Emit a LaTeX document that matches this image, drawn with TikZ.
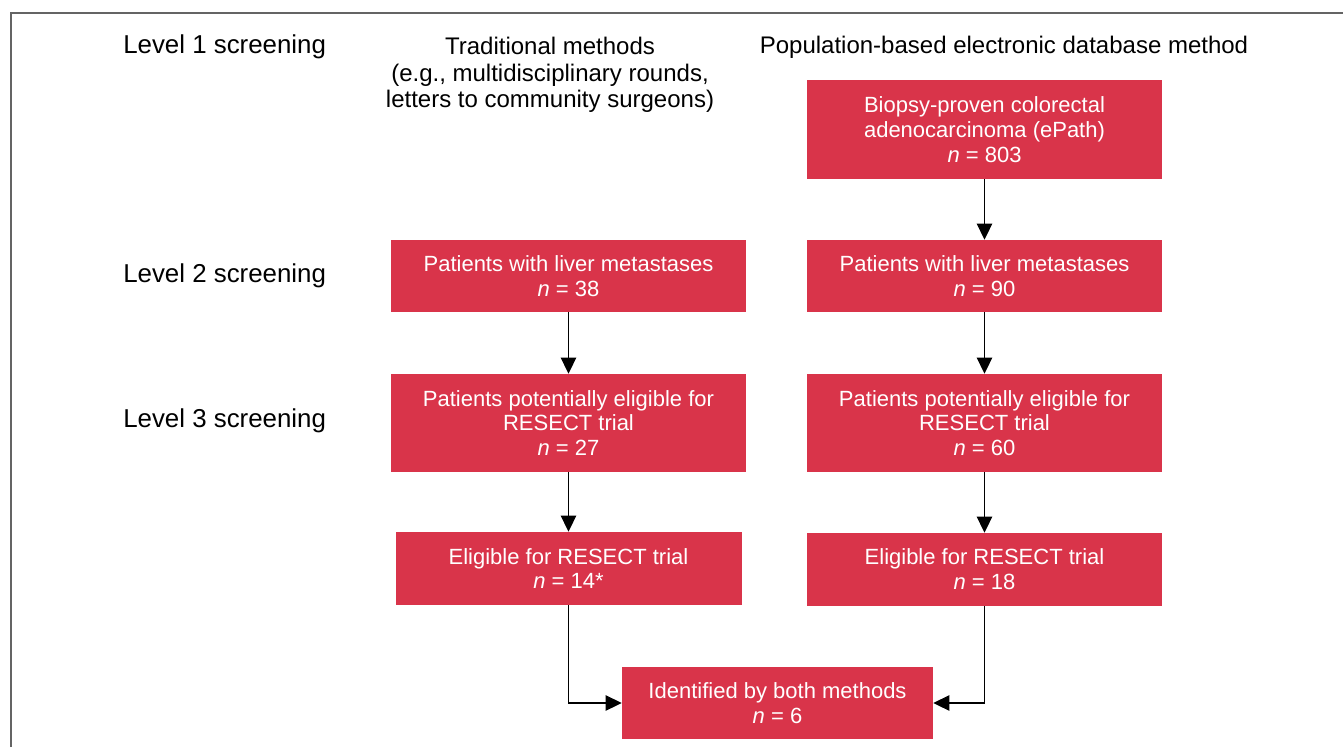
\documentclass[tikz,border=0pt]{standalone}
\usepackage{fontspec}
\setmainfont{Liberation Sans}
\usetikzlibrary{arrows.meta}
\definecolor{boxred}{RGB}{217,52,74}
\definecolor{framegray}{RGB}{100,100,100}

\begin{document}
\begin{tikzpicture}[
  x=0.75pt, y=-0.75pt,
  redbox/.style={
    fill=boxred, text=white, inner sep=0pt, align=center,
    minimum width=266.25pt, font=\fontsize{16.5}{18.6}\selectfont
  },
  levellabel/.style={anchor=west, inner sep=0pt, font=\fontsize{19.4}{21}\selectfont},
  header/.style={align=center, inner sep=0pt, font=\fontsize{18}{19.9}\selectfont},
  flow/.style={line width=0.8pt, -{Triangle[length=12pt,width=11.5pt]}}
]
\useasboundingbox (0,0) rectangle (1343,747);
\draw[framegray, line width=1.2pt] (11,747) -- (11,13) -- (1343,13);

% row labels
\node[levellabel] (lev1) at (123,47) {Level 1 screening};
\node[levellabel] (lev2) at (123,276) {Level 2 screening};
\node[levellabel] (lev3) at (123,421) {Level 3 screening};

% column headers
\node[header] (tradhead) at (550,75) {Traditional methods\\(e.g., multidisciplinary rounds,\\letters to community surgeons)};
\node[header] (pophead) at (1004,47) {Population-based electronic database method};

% boxes
\node[redbox, minimum height=74.25pt] (epath) at (984.5,129.5)
  {Biopsy-proven colorectal\\adenocarcinoma (ePath)\\\textit{n} = 803};
\node[redbox, minimum height=54pt] (livertrad) at (568.5,276)
  {Patients with liver metastases\\\textit{n} = 38};
\node[redbox, minimum height=54pt] (liverpop) at (984.5,276)
  {Patients with liver metastases\\\textit{n} = 90};
\node[redbox, minimum height=73.5pt] (pottrad) at (568.5,423)
  {Patients potentially eligible for\\RESECT trial\\\textit{n} = 27};
\node[redbox, minimum height=73.5pt] (potpop) at (984.5,423)
  {Patients potentially eligible for\\RESECT trial\\\textit{n} = 60};
\node[redbox, minimum width=259.5pt, minimum height=54.75pt] (eligtrad) at (568.5,568.5)
  {Eligible for RESECT trial\\\textit{n} = 14*};
\node[redbox, minimum height=54.75pt] (eligpop) at (984.5,569.5)
  {Eligible for RESECT trial\\\textit{n} = 18};
\node[redbox, minimum width=233.25pt, minimum height=54pt] (both) at (777.5,703)
  {Identified by both methods\\\textit{n} = 6};

% connectors
\draw[flow] (epath) -- (liverpop);
\draw[flow] (livertrad) -- (pottrad);
\draw[flow] (liverpop) -- (potpop);
\draw[flow] (pottrad) -- (eligtrad);
\draw[flow] (potpop) -- (eligpop);
\draw[flow] (eligtrad.south) |- (both.west);
\draw[flow] (eligpop.south) |- (both.east);
\end{tikzpicture}
\end{document}
